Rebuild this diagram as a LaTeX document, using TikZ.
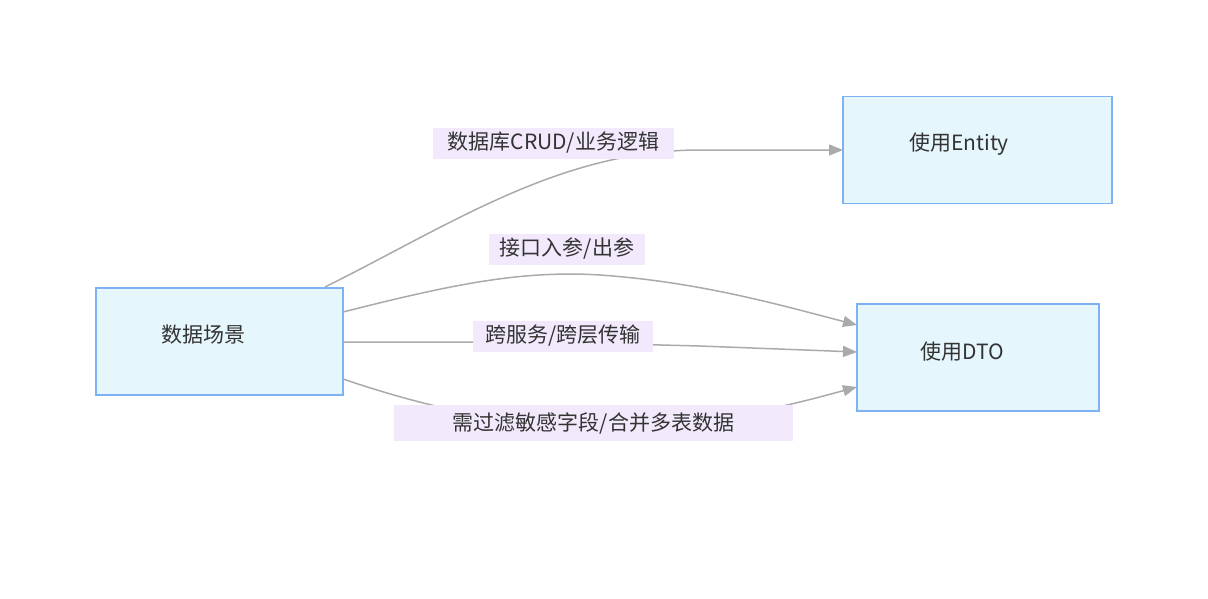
\documentclass[tikz,border=0pt]{standalone}
\usepackage{fontspec}
\setmainfont{Noto Sans CJK SC}
\usetikzlibrary{arrows.meta}
\definecolor{nfill}{HTML}{E5F6FD}
\definecolor{nline}{HTML}{7FB2F5}
\definecolor{lfill}{HTML}{F2EAFC}
\definecolor{eline}{HTML}{AAAAAA}
\definecolor{tcol}{HTML}{333333}
\begin{document}
\begin{tikzpicture}[x=1pt,y=-1pt,
 box/.style={draw=nline,fill=nfill,line width=1.2pt,minimum width=#1,minimum height=107pt,inner sep=0pt},
 txt/.style={font=\fontsize{21}{24}\selectfont,text=tcol},
 lab/.style={fill=lfill,font=\fontsize{21}{24}\selectfont,text=tcol,inner sep=0pt,minimum height=31pt},
 edge/.style={draw=eline,line width=1.5pt,-{Triangle[length=14pt,width=11pt,fill=eline]}}]
\useasboundingbox (0,0) rectangle (1208,598);
\node[box=247pt] (s) at (219.5,341.5) {};
\node[txt] (st) at (203,335) {数据场景};
\node[box=269pt] (e) at (977.5,150) {};
\node[txt] (et) at (959,144) {使用Entity};
\node[box=242pt] (d) at (978,357.5) {};
\node[txt] (dt) at (962,352) {使用DTO};
\coordinate (s1) at (325,287);
\coordinate (s2) at (343,312);
\coordinate (s3) at (343,342);
\coordinate (s4) at (343,379);
\coordinate (d2) at (857,325);
\coordinate (d3) at (857,352);
\coordinate (d4) at (857,387);
\coordinate (e1) at (843,150);
\draw[edge] (s1) .. controls (450,225) and (560,150) .. (700,150) -- (e1);
\draw[edge] (s2) .. controls (450,285) and (520,270) .. (600,275) .. controls (700,282) and (780,305) .. (d2);
\draw[edge] (s3) -- (470,342) .. controls (560,342) and (620,344) .. (700,346) -- (d3);
\draw[edge] (s4) .. controls (420,405) and (500,425) .. (593,425) .. controls (720,425) and (790,405) .. (d4);
\node[lab,minimum width=241pt] (l1) at (553.5,143) {数据库CRUD/业务逻辑};
\node[lab,minimum width=156pt] (l2) at (567,249) {接口入参/出参};
\node[lab,minimum width=180pt] (l3) at (563,336) {跨服务/跨层传输};
\node[lab,minimum width=399pt,minimum height=36pt] (l4) at (593.5,423) {需过滤敏感字段/合并多表数据};
\end{tikzpicture}
\end{document}
